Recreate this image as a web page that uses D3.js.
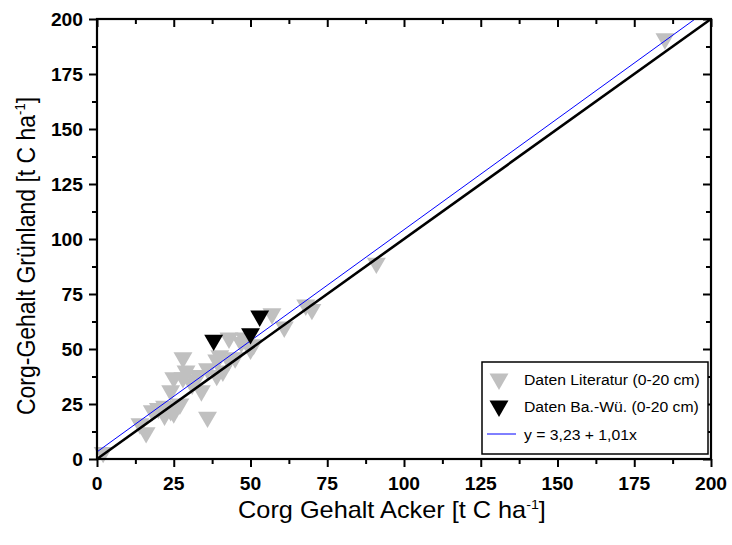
<!DOCTYPE html>
<html>
<head>
<meta charset="utf-8">
<script src="https://cdn.jsdelivr.net/npm/d3@7"></script>
<style>
  html, body { margin: 0; padding: 0; background: #fff; }
  svg { display: block; font-family: "Liberation Sans", Arial, sans-serif; }
</style>
</head>
<body>
<svg id="chart" width="732" height="545"></svg>
<script>
// ---- data ----
const litX = [2, 14, 16, 18, 20, 22, 22, 24, 25, 27, 24, 25, 28, 28, 29, 31, 32, 33, 34, 36, 36, 39, 39, 40, 41, 43, 43, 45, 47, 48, 50, 51, 57, 61, 68, 70, 91, 185];
const litY = [3, 16, 12, 22, 23, 20, 24, 22, 21, 25, 31, 37, 37, 46, 40, 34, 36, 38, 31, 19, 41, 38, 45, 47, 40, 45, 55, 46, 53, 55, 50, 52, 66, 60, 70, 68, 89, 191];
const bwX = [38, 50, 53];
const bwY = [54, 57, 65];
const fitIntercept = 3.23;
const fitSlope = 1.01;
const xTicks = [0, 25, 50, 75, 100, 125, 150, 175, 200];
const yTicks = [0, 25, 50, 75, 100, 125, 150, 175, 200];
const legendLabels = ["Daten Literatur (0-20 cm)", "Daten Ba.-Wü. (0-20 cm)", "y = 3,23 + 1,01x"];
const xTitle = "Corg Gehalt Acker [t C ha";
const yTitle = "Corg-Gehalt Grünland [t C ha";

// ---- layout ----
const L = 97, R = 711, T = 19, B = 459;
const STR = 1.1; // horizontal text stretch of the original
const svg = d3.select("#chart");
const x = d3.scaleLinear().domain([0, 200]).range([L, R]);
const y = d3.scaleLinear().domain([0, 200]).range([B, T]);
const minorTicks = d3.range(12.5, 200, 25);

const gray = "#c0c0c0";
const tri = d3.symbol().type(d3.symbolTriangle).size(155);

// points (gray)
const litData = litX.map((v, i) => [v, litY[i]]);
svg.append("g").selectAll("path").data(litData).join("path")
  .attr("d", tri)
  .attr("transform", d => `translate(${x(d[0])},${y(d[1])}) rotate(180)`)
  .attr("fill", gray);

// lines
svg.append("line")
  .attr("x1", x(0)).attr("y1", y(0)).attr("x2", x(200)).attr("y2", y(200))
  .attr("stroke", "#000").attr("stroke-width", 2.6);
const xEnd = (200 - fitIntercept) / fitSlope;
svg.append("line")
  .attr("x1", x(0)).attr("y1", y(fitIntercept)).attr("x2", x(xEnd)).attr("y2", y(200))
  .attr("stroke", "#0000ff").attr("stroke-width", 1);

// black points
const bwData = bwX.map((v, i) => [v, bwY[i]]);
svg.append("g").selectAll("path").data(bwData).join("path")
  .attr("d", tri)
  .attr("transform", d => `translate(${x(d[0])},${y(d[1])}) rotate(180)`)
  .attr("fill", "#000");

// axes
function styleAxis(g) {
  g.select(".domain").remove();
  g.selectAll("line").attr("stroke", "#000").attr("stroke-width", 2);
}
function addAxis(axisFn, scale, vals, size, tx, ty) {
  const g = svg.append("g").attr("transform", `translate(${tx},${ty})`)
    .call(axisFn(scale).tickValues(vals).tickSize(size).tickFormat(""));
  styleAxis(g);
}
addAxis(d3.axisBottom, x, xTicks, 8, 0, B);
addAxis(d3.axisBottom, x, minorTicks, 5, 0, B);
addAxis(d3.axisBottom, x, xTicks, 8, 0, T);
addAxis(d3.axisBottom, x, minorTicks, 5, 0, T);
addAxis(d3.axisLeft, y, yTicks, 8, L, 0);
addAxis(d3.axisLeft, y, minorTicks, 5, L, 0);
addAxis(d3.axisLeft, y, yTicks, 8, R, 0);
addAxis(d3.axisLeft, y, minorTicks, 5, R, 0);

// frame
svg.append("rect").attr("x", L).attr("y", T).attr("width", R - L).attr("height", B - T)
  .attr("fill", "none").attr("stroke", "#000").attr("stroke-width", 2.2);

// tick labels
svg.append("g").selectAll("text").data(xTicks).join("text")
  .attr("transform", d => `translate(${x(d)},${B + 31}) scale(${STR},1)`)
  .attr("text-anchor", "middle").attr("font-weight", "bold").attr("font-size", 17.5)
  .text(d => d);
svg.append("g").selectAll("text").data(yTicks).join("text")
  .attr("transform", d => `translate(${L - 14},${y(d) + 6.5}) scale(${STR},1)`)
  .attr("text-anchor", "end").attr("font-weight", "bold").attr("font-size", 17.5)
  .text(d => d);

// axis titles
const xt = svg.append("text")
  .attr("transform", `translate(392,518) scale(${STR},1)`)
  .attr("text-anchor", "middle").attr("font-size", 23);
xt.append("tspan").text(xTitle);
xt.append("tspan").attr("font-size", 13).attr("dy", -9).text("-1");
xt.append("tspan").attr("dy", 9).text("]");

const yt = svg.append("text")
  .attr("transform", `translate(35,${(T + B) / 2 + 17}) rotate(-90) scale(1,${STR})`)
  .attr("text-anchor", "middle").attr("font-size", 23);
yt.append("tspan").text(yTitle);
yt.append("tspan").attr("font-size", 13).attr("dy", -9).text("-1");
yt.append("tspan").attr("dy", 9).text("]");

// legend
const lg = svg.append("g");
lg.append("rect").attr("x", 482).attr("y", 362).attr("width", 226).attr("height", 92)
  .attr("fill", "#fff").attr("stroke", "#000").attr("stroke-width", 1.5);
const rowsY = [379, 406, 434];
lg.append("path").attr("d", tri).attr("fill", gray)
  .attr("transform", `translate(499,${rowsY[0]}) rotate(180)`);
lg.append("path").attr("d", tri).attr("fill", "#000")
  .attr("transform", `translate(499,${rowsY[1]}) rotate(180)`);
lg.append("line").attr("x1", 487).attr("x2", 516).attr("y1", rowsY[2]).attr("y2", rowsY[2])
  .attr("stroke", "#0000ff").attr("stroke-width", 1);
lg.selectAll("text.lab").data(legendLabels).join("text").attr("class", "lab")
  .attr("transform", (d, i) => `translate(524,${rowsY[i] + 6}) scale(1.05,1)`)
  .attr("font-size", 15).text(d => d);
</script>
</body>
</html>
